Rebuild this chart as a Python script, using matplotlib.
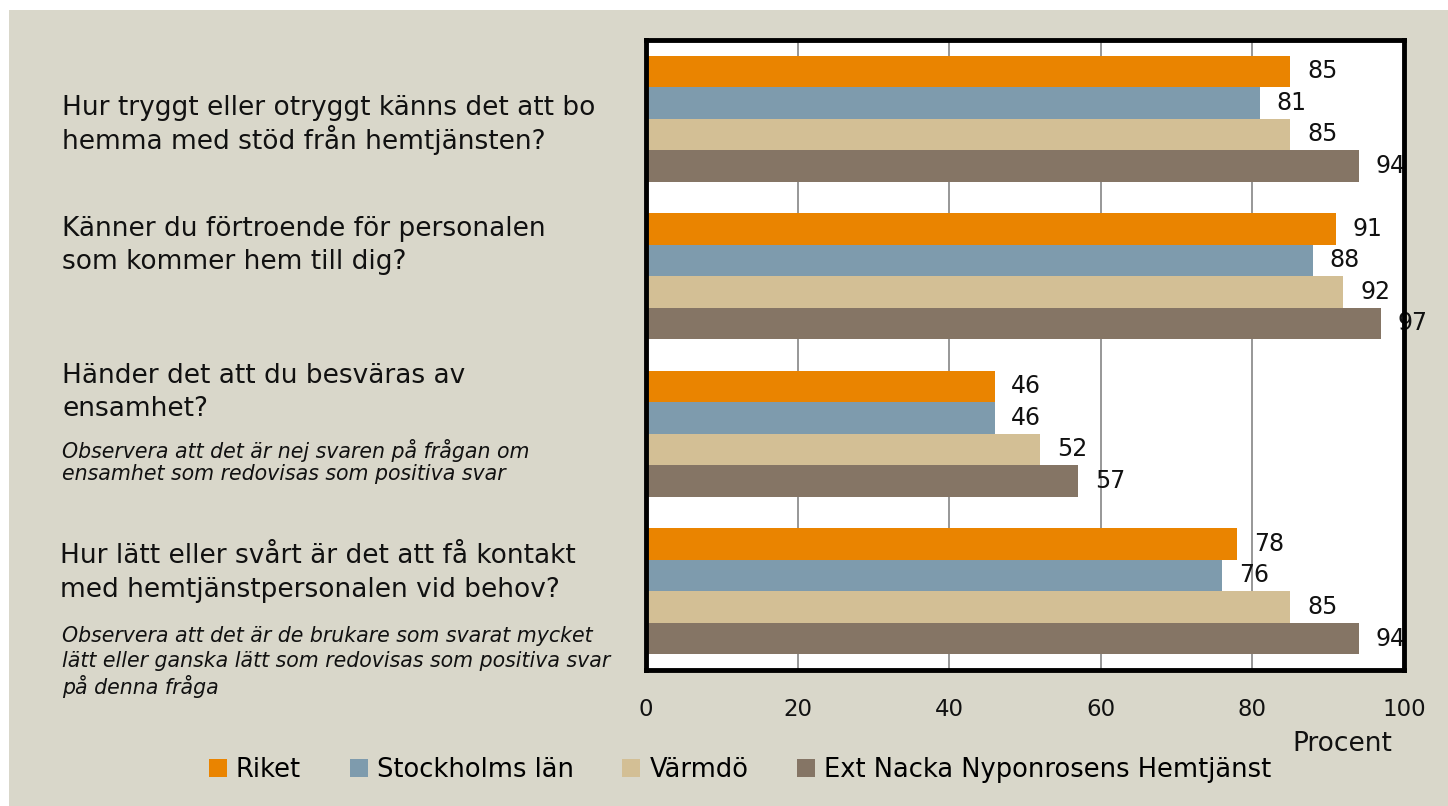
import numpy as np
import matplotlib
matplotlib.use('Agg')
import matplotlib.pyplot as plt
from matplotlib.patches import Rectangle

plt.rcParams['font.family'] = ['DejaVu Sans']

series = ["Riket", "Stockholms län", "Värmdö", "Ext Nacka Nyponrosens Hemtjänst"]
colors = ["#EA8400", "#7E9BAD", "#D3BF95", "#857565"]
riket = [85, 91, 46, 78]
stockholm = [81, 88, 46, 76]
varmdo = [85, 92, 52, 85]
nacka = [94, 97, 57, 94]
values = [riket, stockholm, varmdo, nacka]
xticks = [0, 20, 40, 60, 80, 100]

BG = "#D9D7CA"
W, H = 1448, 806

fig = plt.figure(figsize=(W / 100, H / 100), dpi=100)
fig.patch.set_facecolor("white")
fig.patches.append(Rectangle((9 / W, 0), 1 - 9 / W, 1 - 10 / H, transform=fig.transFigure,
                             facecolor=BG, edgecolor="none", zorder=-10))

ax = fig.add_axes([646 / W, 1 - 670 / H, 758 / W, 630 / H])
ax.set_facecolor("white")

y = np.arange(4)
h = 0.2
for k, (vals, col, name) in enumerate(zip(values, colors, series)):
    bars = ax.barh(y + (k - 1.5) * h, vals, height=h, color=col, label=name, zorder=2)
    ax.bar_label(bars, padding=12, fontsize=17, color="#111111", zorder=3)

ax.set_xlim(0, 100)
ax.set_ylim(3.5, -0.5)
ax.set_xticks(xticks)
ax.set_yticks([])
ax.tick_params(axis="x", length=0, pad=20, labelsize=16.5, colors="#111111")
ax.grid(axis="x", color="#8f8f8f", lw=1.3, zorder=1)
ax.set_axisbelow(True)
for s in ax.spines.values():
    s.set_linewidth(3.5)
    s.set_color("black")
    s.set_zorder(5)

ax.set_xlabel("Procent", fontsize=19, color="#111111")
ax.xaxis.set_label_coords((1342 - 646) / 758, (670 - 731) / 630)

# question texts on the left
def ftext(px, py, s, **kw):
    fig.text(px / W, 1 - py / H, s, va="center", ha="left", color="#111111", **kw)

q = dict(fontsize=19)
note = dict(fontsize=14.8, style="italic")
ftext(62, 108, "Hur tryggt eller otryggt känns det att bo", **q)
ftext(62, 140, "hemma med stöd från hemtjänsten?", **q)
ftext(62, 229, "Känner du förtroende för personalen", **q)
ftext(62, 262, "som kommer hem till dig?", **q)
ftext(62, 376, "Händer det att du besväras av", **q)
ftext(62, 409, "ensamhet?", **q)
ftext(62, 450, "Observera att det är nej svaren på frågan om", **note)
ftext(62, 474, "ensamhet som redovisas som positiva svar", **note)
ftext(60, 556, "Hur lätt eller svårt är det att få kontakt", **q)
ftext(60, 590, "med hemtjänstpersonalen vid behov?", **q)
ftext(62, 636, "Observera att det är de brukare som svarat mycket", **note)
ftext(62, 661, "lätt eller ganska lätt som redovisas som positiva svar", **note)
ftext(62, 687, "på denna fråga", **note)

fig.legend(loc="center", bbox_to_anchor=(740 / W, 1 - 770 / H), ncol=4, frameon=False,
           fontsize=18.5, handlelength=0.7, handleheight=0.7, handletextpad=0.35,
           columnspacing=1.9, borderaxespad=0)

fig.savefig("out.png", dpi=100, facecolor=fig.get_facecolor())
